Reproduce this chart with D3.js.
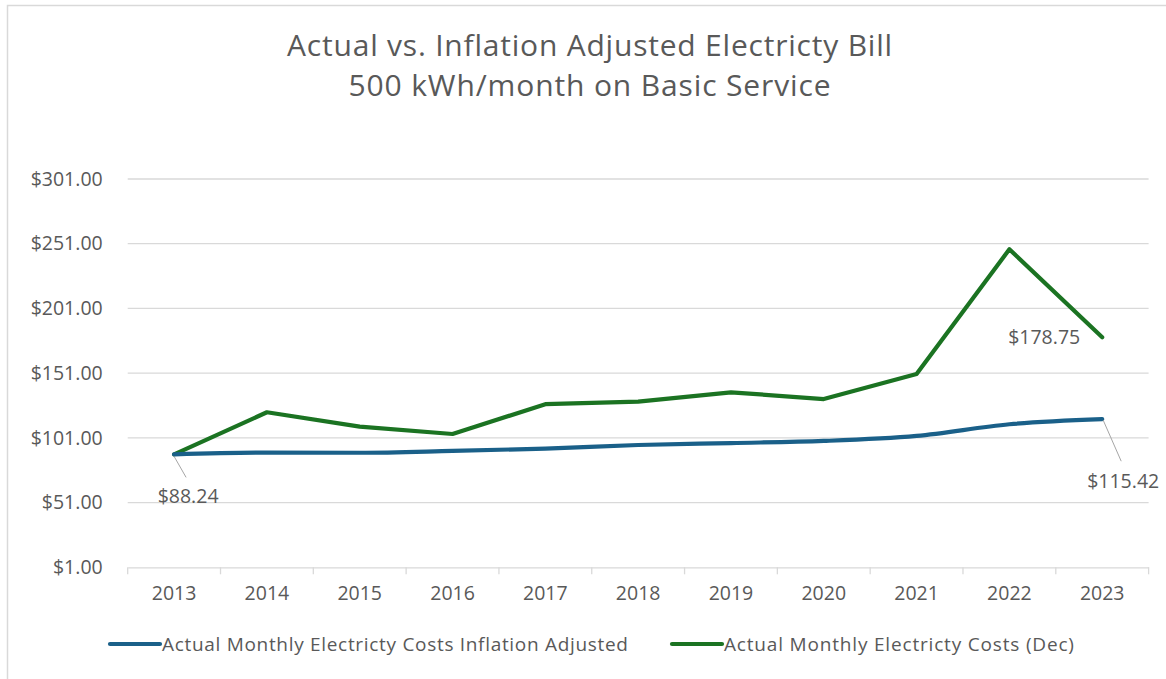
<!DOCTYPE html>
<html>
<head>
<meta charset="utf-8">
<script src="https://cdn.jsdelivr.net/npm/d3@7"></script>
<style>
  html, body { margin: 0; padding: 0; background: #fff; }
  svg { display: block; }
  text { font-family: "Open Sans", "Liberation Sans", Arial, sans-serif; fill: #595959; }
</style>
</head>
<body>
<svg id="chart" width="1166" height="679"></svg>
<script>
const titleLines = ["Actual vs. Inflation Adjusted Electricty Bill", "500 kWh/month on Basic Service"];
const years = ["2013","2014","2015","2016","2017","2018","2019","2020","2021","2022","2023"];
const inflationAdjusted = [88.24, 89.6, 89.5, 90.9, 92.7, 95.5, 97.0, 98.6, 102.5, 111.5, 115.42];
const actualDec = [88.24, 120.8, 109.7, 104.0, 127.0, 129.0, 136.2, 131.0, 150.4, 246.7, 178.75];
const yTicks = [1, 51, 101, 151, 201, 251, 301];
const seriesNames = ["Actual Monthly Electricty Costs Inflation Adjusted", "Actual Monthly Electricty Costs (Dec)"];
const seriesColors = ["#1a6089", "#1b7322"];

const FONT = '"Open Sans", "Liberation Sans", Arial, sans-serif';
const svg = d3.select("#chart");

// chart border
svg.append("rect").attr("x", 7.5).attr("y", 5.5).attr("width", 1300).attr("height", 800)
  .attr("fill", "none").attr("stroke", "#d9d9d9").attr("stroke-width", 1.5);

const x = d3.scaleBand().domain(years).range([127.7, 1148.6]).padding(0);
const y = d3.scaleLinear().domain([1, 301]).range([567.3, 179]);

// fit helper: adjust letter-spacing so a text reaches the reference width
function fit(sel, target) {
  sel.each(function () {
    const n = this.getNumberOfChars();
    const w = this.getComputedTextLength();
    const t = target[this.textContent];
    if (n > 1 && t) {
      d3.select(this).attr("letter-spacing", ((t - w) / (n - 1)).toFixed(2));
    }
  });
}

// title
const tt = svg.append("g").selectAll("text").data(titleLines).join("text")
  .attr("x", 590).attr("y", (d, i) => 56 + i * 40)
  .attr("text-anchor", "middle").attr("font-size", 30).text(d => d);

// gridlines
svg.append("g").selectAll("line").data(yTicks.slice(1)).join("line")
  .attr("x1", x.range()[0]).attr("x2", x.range()[1])
  .attr("y1", d => y(d)).attr("y2", d => y(d))
  .attr("stroke", "#d9d9d9").attr("stroke-width", 1.3);

// y axis labels
const yAxis = d3.axisLeft(y).tickValues(yTicks).tickSize(0).tickPadding(25)
  .tickFormat(d => "$" + d3.format(".2f")(d));
const gy = svg.append("g").attr("transform", `translate(${x.range()[0]},0)`).call(yAxis);
gy.select(".domain").remove();
gy.selectAll("text").attr("font-size", 19.5).attr("fill", "#595959").style("font-family", FONT);

// x axis
const xAxis = d3.axisBottom(x).tickSize(0).tickPadding(19);
const gx = svg.append("g").attr("transform", `translate(0,${y(1)})`).call(xAxis);
gx.select(".domain").attr("stroke", "#d9d9d9").attr("stroke-width", 1.3);
gx.selectAll("text").attr("font-size", 19.5).attr("fill", "#595959").style("font-family", FONT);
const bounds = years.map(d => x(d)).concat([x.range()[1]]);
gx.append("g").selectAll("line").data(bounds).join("line")
  .attr("x1", d => d).attr("x2", d => d).attr("y1", 0).attr("y2", 7)
  .attr("stroke", "#d9d9d9").attr("stroke-width", 1.3);

const cx = d => x(d) + x.bandwidth() / 2;

// lines
const lineSmooth = d3.line().x((d, i) => cx(years[i])).y(d => y(d)).curve(d3.curveMonotoneX);
const lineStraight = d3.line().x((d, i) => cx(years[i])).y(d => y(d));

svg.append("path").datum(actualDec).attr("d", lineStraight)
  .attr("fill", "none").attr("stroke", seriesColors[1]).attr("stroke-width", 4.2)
  .attr("stroke-linejoin", "round").attr("stroke-linecap", "round");
svg.append("path").datum(inflationAdjusted).attr("d", lineSmooth)
  .attr("fill", "none").attr("stroke", seriesColors[0]).attr("stroke-width", 4.2)
  .attr("stroke-linejoin", "round").attr("stroke-linecap", "round");

// data labels
const fmt = d => "$" + d3.format(".2f")(d);
const labG = svg.append("g");
const x0 = cx(years[0]), y0 = y(inflationAdjusted[0]);
labG.append("line").attr("x1", x0).attr("y1", y0 + 2).attr("x2", x0 + 12).attr("y2", y0 + 23)
  .attr("stroke", "#a6a6a6").attr("stroke-width", 1);
labG.append("text").attr("x", x0 + 14).attr("y", y0 + 49).attr("text-anchor", "middle")
  .attr("font-size", 19.5).text(fmt(inflationAdjusted[0]));
const xL = cx(years[10]), yB = y(inflationAdjusted[10]);
labG.append("line").attr("x1", xL + 1).attr("y1", yB + 1).attr("x2", xL + 19).attr("y2", yB + 42)
  .attr("stroke", "#a6a6a6").attr("stroke-width", 1);
labG.append("text").attr("x", xL + 21).attr("y", yB + 69).attr("text-anchor", "middle")
  .attr("font-size", 19.5).text(fmt(inflationAdjusted[10]));
const yG = y(actualDec[10]);
labG.append("text").attr("x", xL - 58).attr("y", yG + 7).attr("text-anchor", "middle")
  .attr("font-size", 19.5).text(fmt(actualDec[10]));

// legend
const legendX = [110, 672];
const lg = svg.append("g").selectAll("g").data(seriesNames).join("g")
  .attr("transform", (d, i) => `translate(${legendX[i]},644)`);
lg.append("line").attr("x1", 0).attr("x2", 50).attr("y1", 0).attr("y2", 0)
  .attr("stroke", (d, i) => seriesColors[i]).attr("stroke-width", 4.2).attr("stroke-linecap", "round");
const lt = lg.append("text").attr("x", 52).attr("y", 7).attr("font-size", 19).text(d => d);

// match reference text widths
fit(tt, {[titleLines[0]]: 605, [titleLines[1]]: 482});
fit(lt, {[seriesNames[0]]: 466, [seriesNames[1]]: 350});
</script>
</body>
</html>
